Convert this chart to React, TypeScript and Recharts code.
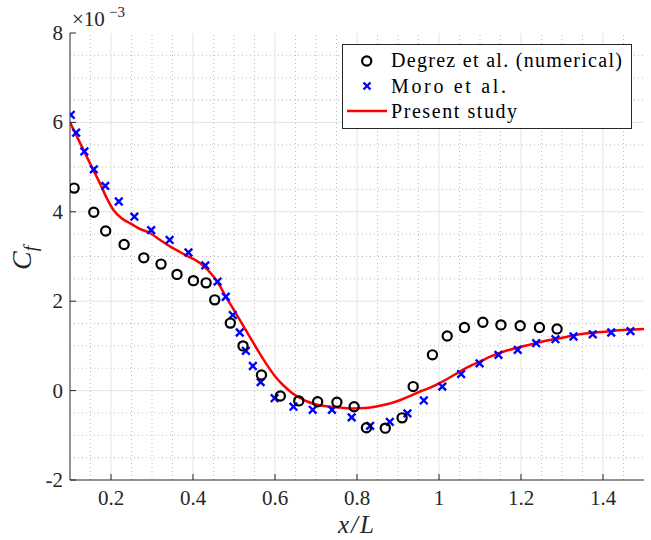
import { ComposedChart, XAxis, YAxis, Scatter, Line, ReferenceLine } from "recharts"

const degrezX = [0.110, 0.158, 0.187, 0.232, 0.280, 0.322, 0.361, 0.401, 0.432, 0.453, 0.491, 0.522, 0.567, 0.613, 0.658, 0.704, 0.751, 0.793, 0.823, 0.869, 0.910, 0.937, 0.984, 1.020, 1.062, 1.107, 1.151, 1.198, 1.245, 1.288]
const degrezY = [4.53, 3.99, 3.57, 3.27, 2.97, 2.83, 2.60, 2.46, 2.41, 2.03, 1.51, 1.00, 0.35, -0.12, -0.23, -0.25, -0.26, -0.36, -0.83, -0.84, -0.61, 0.09, 0.80, 1.22, 1.41, 1.53, 1.47, 1.45, 1.41, 1.38]

const moroX = [0.102, 0.115, 0.135, 0.158, 0.186, 0.219, 0.257, 0.298, 0.343, 0.389, 0.430, 0.460, 0.480, 0.497, 0.514, 0.529, 0.546, 0.565, 0.599, 0.645, 0.692, 0.739, 0.787, 0.832, 0.880, 0.923, 0.963, 1.008, 1.054, 1.099, 1.145, 1.192, 1.237, 1.284, 1.328, 1.375, 1.420, 1.467]
const moroY = [6.17, 5.77, 5.35, 4.95, 4.58, 4.23, 3.89, 3.59, 3.37, 3.09, 2.80, 2.44, 2.10, 1.69, 1.30, 0.89, 0.55, 0.19, -0.17, -0.36, -0.43, -0.43, -0.60, -0.79, -0.70, -0.51, -0.22, 0.09, 0.37, 0.61, 0.80, 0.91, 1.06, 1.15, 1.21, 1.26, 1.30, 1.33]

const presentX = [0.10, 0.125, 0.15, 0.175, 0.19, 0.206, 0.225, 0.247, 0.27, 0.296, 0.32, 0.345, 0.38, 0.418, 0.45, 0.467, 0.48, 0.50, 0.52, 0.54, 0.56, 0.58, 0.60, 0.62, 0.64, 0.66, 0.68, 0.70, 0.735, 0.76, 0.79, 0.82, 0.85, 0.88, 0.906, 0.93, 0.954, 0.98, 1.00, 1.02, 1.05, 1.08, 1.10, 1.125, 1.16, 1.20, 1.24, 1.27, 1.31, 1.343, 1.38, 1.416, 1.46, 1.50]
const presentY = [6.0, 5.53, 5.06, 4.6, 4.3, 4.04, 3.86, 3.74, 3.62, 3.52, 3.37, 3.22, 3.04, 2.85, 2.55, 2.32, 2.10, 1.80, 1.49, 1.18, 0.87, 0.58, 0.32, 0.12, -0.04, -0.16, -0.25, -0.31, -0.36, -0.38, -0.40, -0.39, -0.35, -0.29, -0.21, -0.12, -0.02, 0.07, 0.16, 0.26, 0.42, 0.57, 0.65, 0.76, 0.88, 0.98, 1.07, 1.13, 1.20, 1.26, 1.30, 1.33, 1.36, 1.38]

const xTicks = [0.2, 0.4, 0.6, 0.8, 1, 1.2, 1.4]
const yTicks = [-2, 0, 2, 4, 6, 8]
const xMinor = [0.15, 0.25, 0.3, 0.35, 0.45, 0.5, 0.55, 0.65, 0.7, 0.75, 0.85, 0.9, 0.95, 1.05, 1.1, 1.15, 1.25, 1.3, 1.35, 1.45]
const yMinor = [-1.5, -1, -0.5, 0.5, 1, 1.5, 2.5, 3, 3.5, 4.5, 5, 5.5, 6.5, 7, 7.5]
const yMajorGrid = [0, 2, 4, 6]

const degrez = degrezX.map((x, i) => ({ x, y: degrezY[i] }))
const moro = moroX.map((x, i) => ({ x, y: moroY[i] }))
const present = presentX.map((x, i) => ({ x, y: presentY[i] }))

const FONT = "Liberation Serif, Times New Roman, Times, DejaVu Serif, Noto Serif, serif"
const AXIS = "#262626"
const serif = { fontFamily: FONT }

const BottomTick = (p: any) => (
  <g>
    <line x1={p.x} y1={p.y} x2={p.x} y2={p.y - 6} stroke={AXIS} />
    <text x={p.x} y={p.y + 25} textAnchor="middle" style={serif} fontSize={21} fill={AXIS}>
      {p.payload.value}
    </text>
  </g>
)
const TopTick = (p: any) => <line x1={p.x} y1={p.y} x2={p.x} y2={p.y + 6} stroke={AXIS} />
const LeftTick = (p: any) => (
  <g>
    <line x1={p.x} y1={p.y} x2={p.x + 6} y2={p.y} stroke={AXIS} />
    <text x={p.x - 7} y={p.y + 7} textAnchor="end" style={serif} fontSize={21} fill={AXIS}>
      {p.payload.value}
    </text>
  </g>
)
const RightTick = (p: any) => <line x1={p.x} y1={p.y} x2={p.x - 6} y2={p.y} stroke={AXIS} />

const Circle = (p: any) => <circle cx={p.cx} cy={p.cy} r={4.6} fill="none" stroke="#000" strokeWidth={2.2} />
const Cross = (p: any) => (
  <path d={`M${p.cx - 3.8},${p.cy - 3.8}L${p.cx + 3.8},${p.cy + 3.8}M${p.cx - 3.8},${p.cy + 3.8}L${p.cx + 3.8},${p.cy - 3.8}`} stroke="#0000ff" strokeWidth={2.4} />
)

export default function App() {
  return (
    <div style={{ position: "absolute", left: 0, top: 0, width: 651, height: 540, background: "#fff", fontFamily: FONT }}>
      <ComposedChart width={651} height={540} margin={{ top: 33, right: 7, bottom: 0, left: 0 }}>
        <XAxis dataKey="x" type="number" domain={[0.1, 1.5]} allowDataOverflow ticks={xTicks} height={60}
          tickSize={0} tickMargin={0} tickLine={false} axisLine={{ stroke: AXIS }} tick={BottomTick} interval={0} />
        <XAxis xAxisId="top" orientation="top" dataKey="x" type="number" domain={[0.1, 1.5]} allowDataOverflow ticks={xTicks} height={0}
          tickSize={0} tickMargin={0} tickLine={false} axisLine={{ stroke: AXIS }} tick={TopTick} interval={0} />
        <YAxis type="number" domain={[-2, 8]} allowDataOverflow ticks={yTicks} width={70}
          tickSize={0} tickMargin={0} tickLine={false} axisLine={{ stroke: AXIS }} tick={LeftTick} interval={0} />
        <YAxis yAxisId="right" orientation="right" type="number" domain={[-2, 8]} allowDataOverflow ticks={yTicks} width={0}
          tickSize={0} tickMargin={0} tickLine={false} axisLine={{ stroke: AXIS }} tick={RightTick} interval={0} />
        {xMinor.map((v) => (
          <ReferenceLine key={"xm" + v} x={v} stroke="#bdbdbd" strokeDasharray="1 3" strokeWidth={1} />
        ))}
        {yMinor.map((v) => (
          <ReferenceLine key={"ym" + v} y={v} stroke="#bdbdbd" strokeDasharray="1 3" strokeWidth={1} />
        ))}
        {xTicks.map((v) => (
          <ReferenceLine key={"xM" + v} x={v} stroke="#e3e3e3" strokeWidth={1} />
        ))}
        {yMajorGrid.map((v) => (
          <ReferenceLine key={"yM" + v} y={v} stroke="#e3e3e3" strokeWidth={1} />
        ))}
        <Line data={present} dataKey="y" type="monotone" stroke="#ff0000" strokeWidth={2.5} dot={false} isAnimationActive={false} />
        <Scatter data={moro} dataKey="y" shape={Cross} isAnimationActive={false} />
        <Scatter data={degrez} dataKey="y" shape={Circle} isAnimationActive={false} />
      </ComposedChart>
      <svg width={651} height={540} style={{ position: "absolute", left: 0, top: 0, pointerEvents: "none", fontFamily: FONT }}>
        <text x={72} y={26} style={serif} fontSize={21} fill={AXIS}>×10</text>
        <text x={109} y={17} style={serif} fontSize={15} fill={AXIS}>−3</text>
        <text transform="translate(31,258) rotate(-90)" textAnchor="middle" style={serif} fontStyle="italic" fontSize={28} fill={AXIS}>
          C<tspan fontSize={19} dy={6}>f</tspan>
        </text>
        <text x={357} y={533} textAnchor="middle" style={serif} fontStyle="italic" fontSize={25} fill={AXIS} letterSpacing={2}>x/L</text>
        <rect x={342.5} y={44.5} width={289} height={84} fill="#fff" stroke={AXIS} />
        <circle cx={366.7} cy={61} r={4.6} fill="none" stroke="#000" strokeWidth={2.2} />
        <text x={391} y={67} style={serif} fontSize={20} fill="#000" textLength={231} lengthAdjust="spacing">Degrez et al. (numerical)</text>
        <path d="M363.5,82.5L370.5,89.5M363.5,89.5L370.5,82.5" stroke="#0000ff" strokeWidth={2.4} />
        <text x={391} y={93} style={serif} fontSize={20} fill="#000" textLength={115} lengthAdjust="spacing">Moro et al.</text>
        <line x1={347} y1={111} x2={387} y2={111} stroke="#ff0000" strokeWidth={2.5} />
        <text x={391} y={118} style={serif} fontSize={20} fill="#000" textLength={126} lengthAdjust="spacing">Present study</text>
      </svg>
    </div>
  )
}
